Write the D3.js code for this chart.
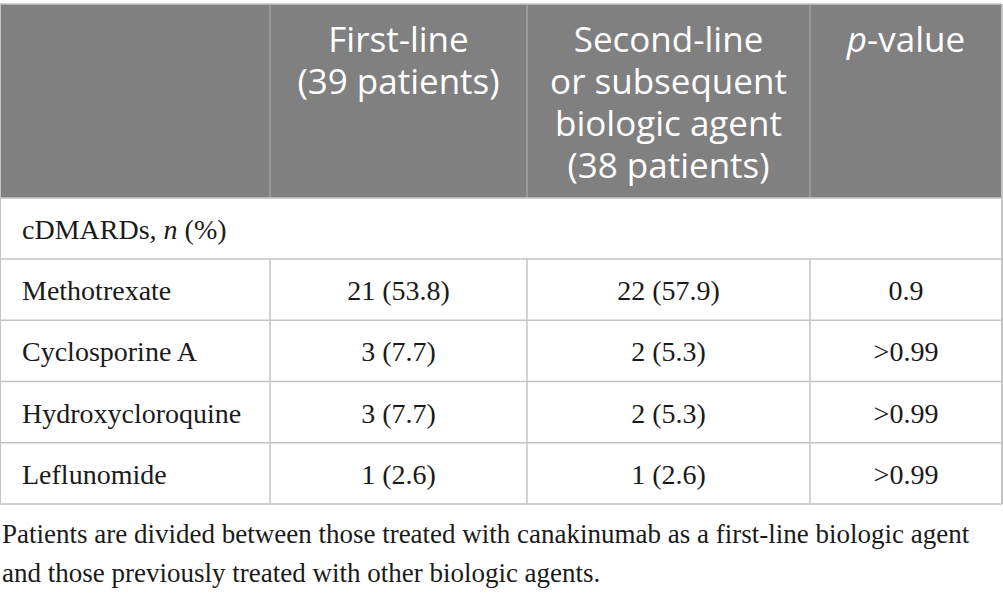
<!DOCTYPE html>
<html>
<head>
<meta charset="utf-8">
<script src="https://cdn.jsdelivr.net/npm/d3@7"></script>
<style>
  html, body { margin: 0; padding: 0; background: #fff; }
  svg { display: block; }
</style>
</head>
<body>
<div id="chart"></div>
<script>
var drugs       = ['Methotrexate', 'Cyclosporine A', 'Hydroxycloroquine', 'Leflunomide'];
var firstLine   = ['21 (53.8)', '3 (7.7)', '3 (7.7)', '1 (2.6)'];
var secondLine  = ['22 (57.9)', '2 (5.3)', '2 (5.3)', '1 (2.6)'];
var pValues     = ['0.9', '>0.99', '>0.99', '>0.99'];
var headers     = [
    [],
    ['First-line', '(39 patients)'],
    ['Second-line', 'or subsequent', 'biologic agent', '(38 patients)'],
    ['p-value']
];
var groupLabel  = 'cDMARDs, ';
var footnote    = [
    'Patients are divided between those treated with canakinumab as a first-line biologic agent',
    'and those previously treated with other biologic agents.'
];

var W = 1003, H = 594;
var HEAD_TOP = 4, HEAD_BOTTOM = 198, GROUP_BOTTOM = 259, TABLE_BOTTOM = 504;
var GRID = '#c4c4c4';
var SERIF = '"Liberation Serif", "Times New Roman", serif';
var SANS  = '"Open Sans", "Noto Sans", sans-serif';

var svg = d3.select('#chart').append('svg')
    .attr('width', W).attr('height', H);

// column edges
var colEdges = [0, 270, 527, 810, 1002];
function colMid(i) { return (colEdges[i] + colEdges[i + 1]) / 2; }

// body rows
var y = d3.scaleBand().domain(drugs).range([GROUP_BOTTOM, TABLE_BOTTOM]);

// header background
svg.append('rect')
    .attr('x', 0).attr('y', HEAD_TOP)
    .attr('width', colEdges[4]).attr('height', HEAD_BOTTOM - HEAD_TOP)
    .attr('fill', '#808080');

// header separators
svg.selectAll('line.hsep').data([1, 2, 3]).enter().append('line')
    .attr('class', 'hsep')
    .attr('x1', function(d) { return colEdges[d]; })
    .attr('x2', function(d) { return colEdges[d]; })
    .attr('y1', HEAD_TOP).attr('y2', HEAD_BOTTOM)
    .attr('stroke', '#a2a2a2').attr('stroke-width', 1.5);

// header text
var head = svg.append('g').attr('font-family', SANS).attr('font-size', 35).attr('fill', '#fff');
headers.forEach(function(lines, i) {
    lines.forEach(function(txt, k) {
        var t = head.append('text')
            .attr('x', colMid(i)).attr('y', 52 + k * 42)
            .attr('text-anchor', 'middle');
        if (txt.indexOf('p-') === 0) {
            t.append('tspan').attr('font-style', 'italic').text('p');
            t.append('tspan').text(txt.slice(1));
        } else {
            t.text(txt);
        }
    });
});

// grid lines of the body
var hLines = [HEAD_TOP, HEAD_BOTTOM, GROUP_BOTTOM].concat(drugs.slice(1).map(function(d) { return y(d); })).concat([TABLE_BOTTOM]);
svg.selectAll('line.hgrid').data(hLines).enter().append('line')
    .attr('class', 'hgrid')
    .attr('x1', 0).attr('x2', colEdges[4])
    .attr('y1', function(d) { return d; }).attr('y2', function(d) { return d; })
    .attr('stroke', GRID).attr('stroke-width', 1.5);

// outer verticals
svg.selectAll('line.outer').data([0, colEdges[4]]).enter().append('line')
    .attr('class', 'outer')
    .attr('x1', function(d) { return d; }).attr('x2', function(d) { return d; })
    .attr('y1', HEAD_TOP).attr('y2', TABLE_BOTTOM)
    .attr('stroke', GRID).attr('stroke-width', 2);

// inner verticals of the data rows only
svg.selectAll('line.vgrid').data([1, 2, 3]).enter().append('line')
    .attr('class', 'vgrid')
    .attr('x1', function(d) { return colEdges[d]; })
    .attr('x2', function(d) { return colEdges[d]; })
    .attr('y1', GROUP_BOTTOM).attr('y2', TABLE_BOTTOM)
    .attr('stroke', GRID).attr('stroke-width', 1.5);

var body = svg.append('g').attr('font-family', SERIF).attr('font-size', 28).attr('fill', '#1a1a1a');

// group row
var g = body.append('text').attr('x', 22).attr('y', 239);
g.append('tspan').text(groupLabel);
g.append('tspan').attr('font-style', 'italic').text('n');
g.append('tspan').text(' (%)');

// data rows
var rows = body.selectAll('g.row').data(drugs).enter().append('g')
    .attr('class', 'row')
    .attr('transform', function(d) { return 'translate(0,' + (y(d) + 41) + ')'; });

rows.append('text').attr('x', 22).text(function(d) { return d; });
rows.append('text').attr('x', colMid(1)).attr('text-anchor', 'middle')
    .text(function(d, i) { return firstLine[i]; });
rows.append('text').attr('x', colMid(2)).attr('text-anchor', 'middle')
    .text(function(d, i) { return secondLine[i]; });
rows.append('text').attr('x', colMid(3)).attr('text-anchor', 'middle')
    .text(function(d, i) { return pValues[i]; });

// footnote
svg.append('g').attr('font-family', SERIF).attr('font-size', 27).attr('fill', '#1a1a1a')
    .selectAll('text').data(footnote).enter().append('text')
    .attr('x', 2).attr('y', function(d, i) { return 543 + i * 39; })
    .text(function(d) { return d; });
</script>
</body>
</html>
